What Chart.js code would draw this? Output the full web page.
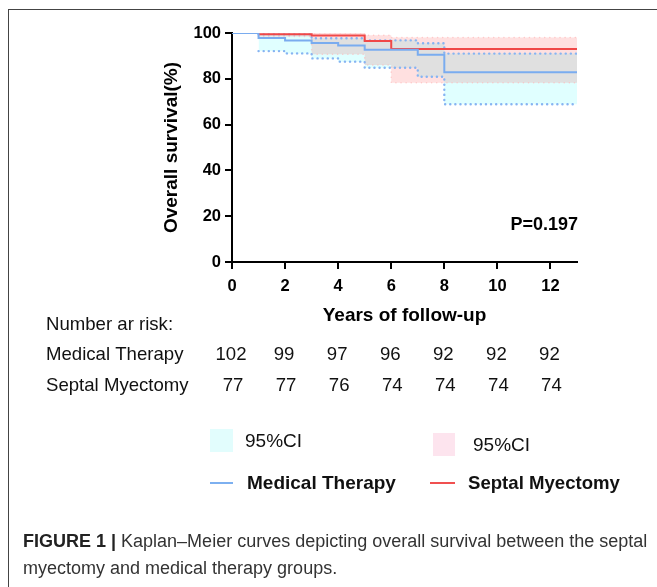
<!DOCTYPE html>
<html>
<head>
<meta charset="utf-8">
<script src="https://cdn.jsdelivr.net/npm/chart.js@4.4.1/dist/chart.umd.min.js"></script>
<style>
body { margin: 0; background: #fff; font-family: "Liberation Sans", Arial, sans-serif; }
#wrap { position: relative; width: 657px; height: 587px; overflow: hidden; }
#frame { position: absolute; left: 8px; top: 9px; width: 660px; height: 590px; border-left: 1.5px solid #444; border-top: 1.5px solid #444; }
canvas { position: absolute; left: 0; top: 0; }
.lg { position: absolute; font-size: 19px; line-height: 20px; color: #111; white-space: nowrap; }
.box { position: absolute; }
#caption { position: absolute; left: 23px; top: 528px; width: 634px; font-size: 18px; line-height: 27px; color: #333; white-space: nowrap; }
#caption b { color: #222; }
</style>
</head>
<body>
<div id="wrap">
  <div id="frame"></div>
  <canvas id="km" width="657" height="587"></canvas>

  <div class="box" style="left:210px;top:429px;width:23px;height:23px;background:#e2fdfd;"></div>
  <div class="lg" style="left:245px;top:431px;">95%CI</div>
  <div class="box" style="left:433px;top:433px;width:22px;height:23px;background:#fde4ee;"></div>
  <div class="lg" style="left:473px;top:435px;">95%CI</div>
  <div class="box" style="left:210px;top:482px;width:23px;height:2px;background:#7db0f0;"></div>
  <div class="lg" style="left:247px;top:473px;font-weight:bold;">Medical Therapy</div>
  <div class="box" style="left:430px;top:482px;width:25px;height:2px;background:#f05050;"></div>
  <div class="lg" style="left:468px;top:473px;font-weight:bold;font-size:18.6px;">Septal Myectomy</div>

  <div id="caption"><b>FIGURE 1 |</b> Kaplan–Meier curves depicting overall survival between the septal<br>myectomy and medical therapy groups.</div>
</div>

<script>
// 생존 곡선 (단위: %), 각 시점부터 다음 시점 전까지 유지
const mtYears = [0, 1, 2, 3, 4, 5, 7, 8, 13];
const mtSurv  = [100, 97.8, 96.7, 95.6, 94.5, 92.7, 90.5, 82.9, 82.9];
const mtUpper = [100, 99.4, 99.4, 97.7, 97.7, 96.8, 95.5, 91.0, 91.0];
const mtLower = [100, 92.1, 91.1, 88.9, 87.5, 84.8, 80.9, 68.9, 68.9];

const smYears = [0, 1, 3, 5, 6, 13];
const smSurv  = [100, 99.4, 98.9, 96.5, 93.0, 93.0];
const smUpper = [100, 100, 100, 99.0, 98.0, 98.0];
const smLower = [100, 98.5, 90.7, 86.0, 78.3, 78.3];

// Number at risk
const riskYears = [0, 2, 4, 6, 8, 10, 12];
const mtRisk = [102, 99, 97, 96, 92, 92, 92];
const smRisk = [77, 77, 76, 74, 74, 74, 74];

const xTicks = [0, 2, 4, 6, 8, 10, 12];
const yTicks = [0, 20, 40, 60, 80, 100];
const pValue = 'P=0.197';

const FONT = '"Liberation Sans", Arial, sans-serif';

const pts = (xs, ys) => xs.map((x, i) => ({ x: x, y: ys[i] }));

// 첫 구간(0~1년, 100%)은 Medical Therapy 선만 보이게
const hideFirst = color => ({ borderColor: c => (c.p0DataIndex === 0 ? 'rgba(0,0,0,0)' : color) });

const stepLine = (label, xs, ys, color, width, extra) => Object.assign({
    label: label,
    data: pts(xs, ys),
    stepped: 'before',
    borderColor: color,
    borderWidth: width,
    pointRadius: 0,
    fill: false
}, extra || {});

// 채우기 겹침을 회색으로 보이게 multiply 합성
const blendPlugin = {
    id: 'blend',
    beforeDraw(chart) { chart.ctx.globalCompositeOperation = 'multiply'; },
    beforeDatasetsDraw(chart) { chart.ctx.globalCompositeOperation = 'source-over'; }
};

const annotPlugin = {
    id: 'annot',
    afterDraw(chart) {
        const ctx = chart.ctx;
        const xs = chart.scales.x;
        const ys = chart.scales.y;
        ctx.save();
        ctx.fillStyle = '#000';
        ctx.textBaseline = 'middle';

        ctx.font = 'bold 18px ' + FONT;
        ctx.textAlign = 'right';
        ctx.fillText(pValue, chart.chartArea.right + 1, ys.getPixelForValue(16));

        ctx.font = '18.6px ' + FONT;
        ctx.textAlign = 'left';
        ctx.fillStyle = '#111';
        ctx.fillText('Number ar risk:', 46, 325);
        ctx.fillText('Medical Therapy', 46, 355);
        ctx.fillText('Septal Myectomy', 46, 386);

        ctx.textAlign = 'center';
        riskYears.forEach((yr, i) => {
            const px = xs.getPixelForValue(yr);
            ctx.fillText(String(mtRisk[i]), px - 1, 355);
            ctx.fillText(String(smRisk[i]), px + 1, 386);
        });
        ctx.restore();
    }
};

const axisGrid = { drawOnChartArea: false, drawTicks: true, tickLength: 7, color: '#000', lineWidth: 2 };
const axisBorder = { display: true, color: '#000', width: 2 };
const dots = { borderDash: [0.1, 5], borderCapStyle: 'round' };
const mtCI = '#86b4f2';
const smCI = 'rgba(255,185,185,0.7)';

new Chart(document.getElementById('km'), {
    type: 'line',
    data: {
        datasets: [
            stepLine('Medical Therapy', mtYears, mtSurv, '#7aacef', 2),
            stepLine('Septal Myectomy', smYears, smSurv, '#f04848', 2, { segment: hideFirst('#f04848') }),
            stepLine('MT upper', mtYears, mtUpper, mtCI, 2.4, Object.assign({ segment: hideFirst(mtCI) }, dots)),
            stepLine('MT lower', mtYears, mtLower, mtCI, 2.4, Object.assign({ segment: hideFirst(mtCI), fill: '-1', backgroundColor: '#e0ffff' }, dots)),
            stepLine('SM upper', smYears, smUpper, smCI, 1.5, Object.assign({ segment: hideFirst(smCI) }, dots)),
            stepLine('SM lower', smYears, smLower, smCI, 1.5, Object.assign({ segment: hideFirst(smCI), fill: '-1', backgroundColor: '#ffe0e0' }, dots))
        ]
    },
    options: {
        responsive: false,
        animation: false,
        layout: { padding: { left: 160, right: 80, top: 33, bottom: 260 } },
        plugins: {
            legend: { display: false },
            tooltip: { enabled: false },
            filler: { drawTime: 'beforeDatasetsDraw' }
        },
        scales: {
            x: {
                type: 'linear',
                min: 0,
                max: 13,
                afterBuildTicks: s => { s.ticks = xTicks.map(v => ({ value: v })); },
                afterFit: s => { s.height = 65; },
                grid: axisGrid,
                border: axisBorder,
                ticks: { color: '#000', padding: 8, maxRotation: 0, font: { family: FONT, size: 16.5, weight: 'bold' } },
                title: { display: true, text: 'Years of follow-up', color: '#000', padding: 0, font: { family: FONT, size: 19, weight: 'bold' } }
            },
            y: {
                min: 0,
                max: 100,
                afterBuildTicks: s => { s.ticks = yTicks.map(v => ({ value: v })); },
                afterFit: s => { s.width = 72; },
                grid: axisGrid,
                border: axisBorder,
                ticks: { color: '#000', padding: 4, font: { family: FONT, size: 16.5, weight: 'bold' } },
                title: { display: true, text: 'Overall survival(%)', color: '#000', padding: 0, font: { family: FONT, size: 19, weight: 'bold' } }
            }
        }
    },
    plugins: [blendPlugin, annotPlugin]
});
</script>
</body>
</html>
